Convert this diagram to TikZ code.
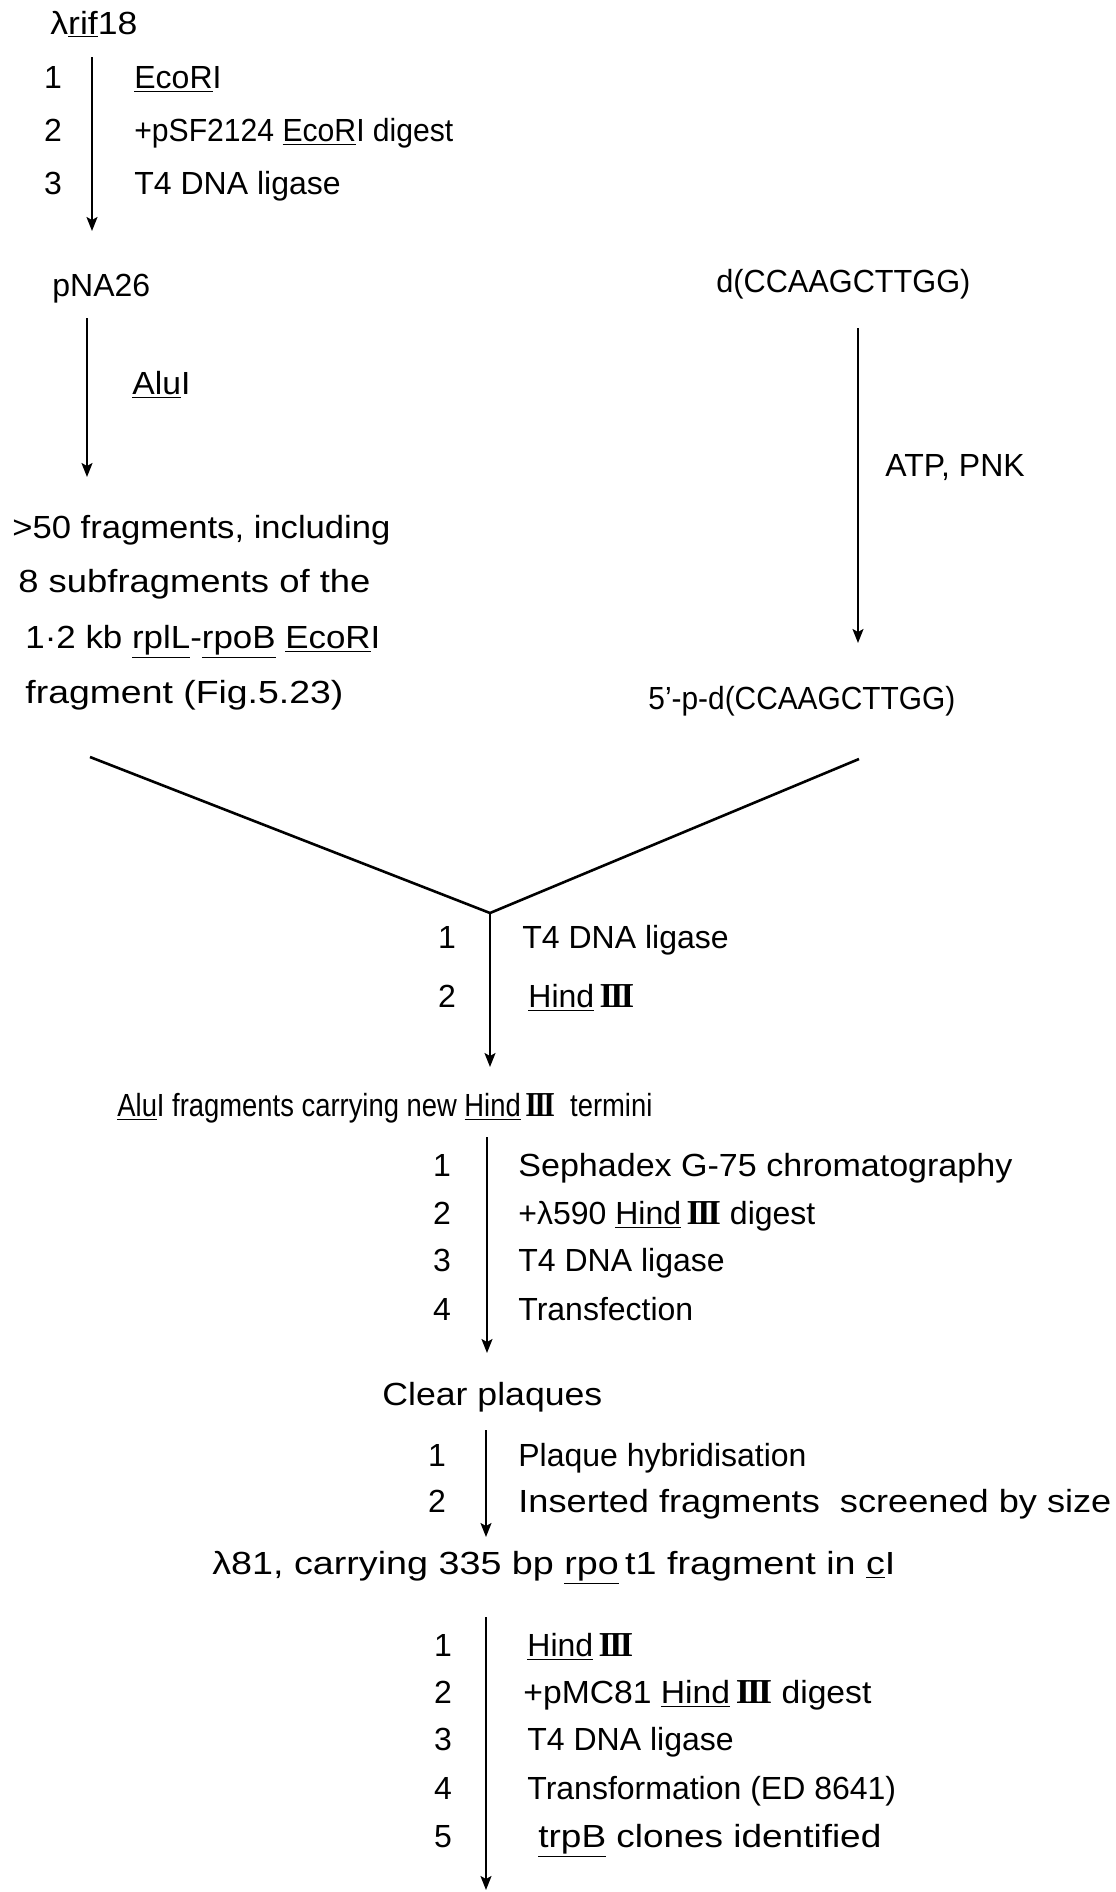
\documentclass[tikz,border=0pt]{standalone}
\usepackage{graphicx}
\usepackage{fontspec}
\setmainfont{Liberation Sans}
\newfontfamily\lsf{Liberation Serif}
\usetikzlibrary{arrows.meta}
\newcommand{\rn}{{\lsf\bfseries\fontsize{17.5}{19}\selectfont I\kern-0.09em I\kern-0.09em I}}
\newcommand{\fw}[2]{\resizebox{#1}{\height}{#2}}
\newcommand{\fs}{\fontsize{16}{19}\selectfont}
\begin{document}
\begin{tikzpicture}[x=0.5pt,y=-0.5pt,
  txt/.style={anchor=base west,inner sep=0pt,font=\fs},
  num/.style={anchor=base,inner sep=0pt,font=\fs},
  arr/.style={line width=1pt,-{Stealth[length=7pt,width=5.5pt,inset=1.5pt]}},
  vln/.style={line width=1.3pt}]
\fill[white] (0,0) rectangle (1115,1892);
\useasboundingbox (0,0) rectangle (1115,1892);
% ---- top left block
\node[txt] (lam) at (50,34) {\fw{43.5pt}{λ\underline{rif}18}};
\coordinate (a1s) at (92,57);
\coordinate (a1e) at (92,231);
\draw[arr] (a1s) -- (a1e);
\node[num] (n11) at (53,88) {1};
\node[num] (n12) at (53,141) {2};
\node[num] (n13) at (53,194) {3};
\node[txt] (t11) at (134,88) {\underline{EcoR}I};
\node[txt] (t12) at (134,141) {\fw{159.5pt}{+pSF2124 \underline{EcoR}I digest}};
\node[txt] (t13) at (134,194) {T4 DNA ligase};
\node[txt] (pna) at (52,296) {pNA26};
\coordinate (a2s) at (87,318);
\coordinate (a2e) at (87,477);
\draw[arr] (a2s) -- (a2e);
\node[txt] (alu) at (132,394) {\fw{29pt}{\underline{Alu}I}};
\node[txt] (f1) at (12,538) {\fw{189pt}{>50 fragments, including}};
\node[txt] (f2) at (18,592) {\fw{176pt}{8 subfragments of the}};
\node[txt] (f3) at (25,648) {\fw{177.5pt}{1·2 kb \underline{rplL}-\underline{rpoB} \underline{EcoR}I}};
\node[txt] (f4) at (25,703) {\fw{159pt}{fragment (Fig.5.23)}};
% ---- right block
\node[txt] (dcc) at (716,292) {\fw{127pt}{d(CCAAGCTTGG)}};
\coordinate (a3s) at (858,328);
\coordinate (a3e) at (858,643);
\draw[arr] (a3s) -- (a3e);
\node[txt] (atp) at (885,476) {ATP, PNK};
\node[txt] (pdcc) at (648,709) {\fw{153.5pt}{5’-p-d(CCAAGCTTGG)}};
% ---- V junction
\coordinate (vl) at (90,757);
\coordinate (vr) at (859,759);
\coordinate (vap) at (490,913);
\draw[vln] (vl) -- (vap) -- (vr);
\coordinate (a4e) at (490,1067);
\draw[arr] (vap) -- (a4e);
\node[num] (n31) at (447,948) {1};
\node[num] (n32) at (447,1007) {2};
\node[txt] (t31) at (522,948) {T4 DNA ligase};
\node[txt] (t32) at (528,1007) {\underline{Hind}\,\rn};
\node[txt] (alufr) at (117,1116) {\fw{267.5pt}{\underline{Alu}I fragments carrying new \underline{Hind}\,\rn\ \ termini}};
% ---- block 4
\coordinate (a5s) at (487,1137);
\coordinate (a5e) at (487,1353);
\draw[arr] (a5s) -- (a5e);
\node[num] (n41) at (442,1176) {1};
\node[num] (n42) at (442,1224) {2};
\node[num] (n43) at (442,1271) {3};
\node[num] (n44) at (442,1320) {4};
\node[txt] (t41) at (518,1176) {\fw{247pt}{Sephadex G-75 chromatography}};
\node[txt] (t42) at (518,1224) {+λ590 \underline{Hind}\,\rn\ digest};
\node[txt] (t43) at (518,1271) {T4 DNA ligase};
\node[txt] (t44) at (518,1320) {Transfection};
\node[txt] (clear) at (382,1405) {\fw{110pt}{Clear plaques}};
% ---- block 5
\coordinate (a6s) at (486,1430);
\coordinate (a6e) at (486,1537);
\draw[arr] (a6s) -- (a6e);
\node[num] (n51) at (437,1466) {1};
\node[num] (n52) at (437,1512) {2};
\node[txt] (t51) at (518,1466) {Plaque hybridisation};
\node[txt] (t52) at (518,1512) {\fw{296.5pt}{Inserted fragments\ \ screened by size}};
\node[txt] (lam81) at (212,1574) {\fw{341.5pt}{λ81, carrying 335 bp \underline{rpo}\,t1 fragment in \underline{c}I}};
% ---- block 6
\coordinate (a7s) at (486,1617);
\coordinate (a7e) at (486,1890);
\draw[arr] (a7s) -- (a7e);
\node[num] (n61) at (443,1656) {1};
\node[num] (n62) at (443,1703) {2};
\node[num] (n63) at (443,1750) {3};
\node[num] (n64) at (443,1799) {4};
\node[num] (n65) at (443,1847) {5};
\node[txt] (t61) at (527,1656) {\underline{Hind}\,\rn};
\node[txt] (t62) at (523,1703) {\fw{174pt}{+pMC81 \underline{Hind}\,\rn\ digest}};
\node[txt] (t63) at (527,1750) {T4 DNA ligase};
\node[txt] (t64) at (527,1799) {Transformation (ED 8641)};
\node[txt] (t65) at (538,1847) {\fw{171.5pt}{\underline{trpB} clones identified}};
\end{tikzpicture}
\end{document}
